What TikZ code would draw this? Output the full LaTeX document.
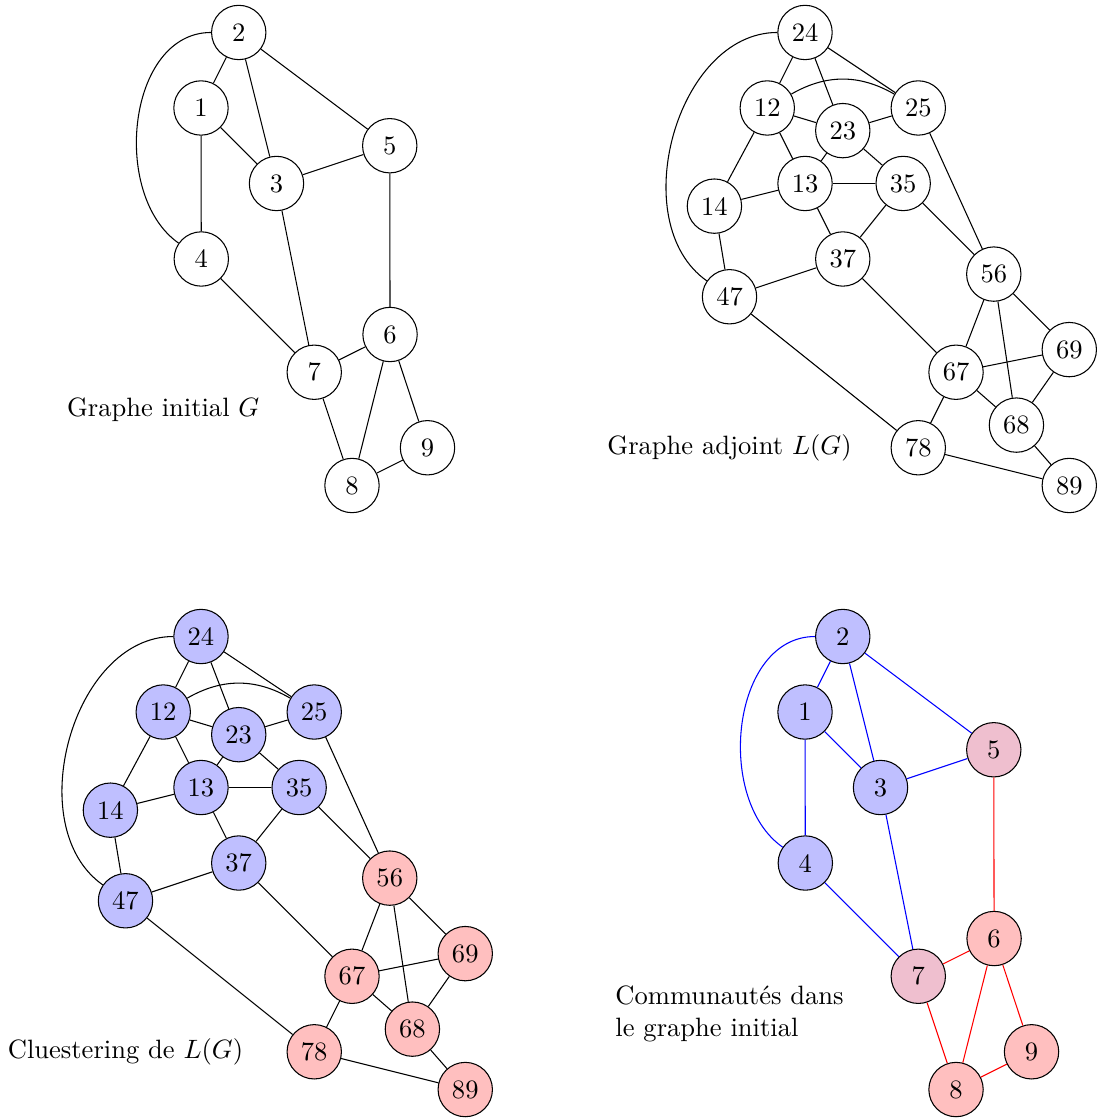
\documentclass[tikz,border=0pt]{standalone}
\usepackage{amsmath, amssymb}
\usepackage{xcolor}
\usepackage{tikz}

\begin{document}
\begin{tikzpicture}[
    vertex/.style={draw, circle, minimum size=7.2mm, inner sep=0pt},
    bleu/.style={vertex, fill=blue!25},
    rouge/.style={vertex, fill=red!25},
    mixte/.style={vertex, fill=purple!25}]
    \useasboundingbox (-2.662,1.430) rectangle (11.854,-13.377);

    % graphe initial
    \node[vertex] (g1) at (0,0) {1};
    \node[vertex] (g2) at (0.5,1) {2};
    \node[vertex] (g3) at (1,-1) {3};
    \node[vertex] (g4) at (0.004,-2) {4};
    \node[vertex] (g5) at (2.5,-0.5) {5};
    \node[vertex] (g6) at (2.504,-3) {6};
    \node[vertex] (g7) at (1.5,-3.5) {7};
    \node[vertex] (g8) at (2,-5) {8};
    \node[vertex] (g9) at (3,-4.5) {9};
    \node (tg) at (-0.5,-4) {Graphe initial $G$};

    \foreach \a/\b in {2/1, 2/3, 2/5, 1/3, 1/4, 3/5, 3/7, 5/6, 4/7, 7/6, 7/8, 6/8, 6/9, 8/9}
        \draw (g\a) -- (g\b);
    \draw (g2) to[out=180, in=145] (g4);

    % graphe adjoint
    \begin{scope}[shift={(7.5,0)}]
        \node[vertex] (l24) at (0.5,1) {24};
        \node[vertex] (l12) at (0,0) {12};
        \node[vertex] (l23) at (1,-0.3) {23};
        \node[vertex] (l25) at (2,0) {25};
        \node[vertex] (l13) at (0.5,-1) {13};
        \node[vertex] (l35) at (1.8,-1) {35};
        \node[vertex] (l14) at (-0.7,-1.3) {14};
        \node[vertex] (l37) at (1,-2) {37};
        \node[vertex] (l56) at (3,-2.2) {56};
        \node[vertex] (l47) at (-0.5,-2.5) {47};
        \node[vertex] (l69) at (4,-3.2) {69};
        \node[vertex] (l67) at (2.5,-3.5) {67};
        \node[vertex] (l68) at (3.3,-4.2) {68};
        \node[vertex] (l78) at (2,-4.5) {78};
        \node[vertex] (l89) at (4,-5) {89};
        \node (tl) at (-0.5,-4.5) {Graphe adjoint $L(G)$};
    \end{scope}

    \foreach \a/\b in {24/12, 24/23, 24/25, 12/23, 12/13, 12/14, 23/25, 23/13, 23/35,
                       13/35, 13/14, 13/37, 35/37, 35/56, 25/56, 14/47, 37/47, 37/67,
                       47/78, 56/67, 56/68, 56/69, 67/69, 67/68, 67/78, 68/69, 68/89, 78/89}
        \draw (l\a) -- (l\b);
    \draw (l24) to[out=180, in=145] (l47);
    \draw (l12) to[bend left=30] (l25);

    % clustering
    \begin{scope}[shift={(-0.5,-8)}]
        \node[bleu] (c24) at (0.5,1) {24};
        \node[bleu] (c12) at (0,0) {12};
        \node[bleu] (c23) at (1,-0.3) {23};
        \node[bleu] (c25) at (2,0) {25};
        \node[bleu] (c13) at (0.5,-1) {13};
        \node[bleu] (c35) at (1.8,-1) {35};
        \node[bleu] (c14) at (-0.7,-1.3) {14};
        \node[bleu] (c37) at (1,-2) {37};
        \node[rouge] (c56) at (3,-2.2) {56};
        \node[bleu] (c47) at (-0.5,-2.5) {47};
        \node[rouge] (c69) at (4,-3.2) {69};
        \node[rouge] (c67) at (2.5,-3.5) {67};
        \node[rouge] (c68) at (3.3,-4.2) {68};
        \node[rouge] (c78) at (2,-4.5) {78};
        \node[rouge] (c89) at (4,-5) {89};
        \node (tc) at (-0.5,-4.5) {Cluestering de $L(G)$};
    \end{scope}

    \foreach \a/\b in {24/12, 24/23, 24/25, 12/23, 12/13, 12/14, 23/25, 23/13, 23/35,
                       13/35, 13/14, 13/37, 35/37, 35/56, 25/56, 14/47, 37/47, 37/67,
                       47/78, 56/67, 56/68, 56/69, 67/69, 67/68, 67/78, 68/69, 68/89, 78/89}
        \draw (c\a) -- (c\b);
    \draw (c24) to[out=180, in=145] (c47);
    \draw (c12) to[bend left=30] (c25);

    % communautes
    \begin{scope}[shift={(8,-8)}]
        \node[bleu] (r1) at (0,0) {1};
        \node[bleu] (r2) at (0.5,1) {2};
        \node[bleu] (r3) at (1,-1) {3};
        \node[bleu] (r4) at (0.004,-2) {4};
        \node[mixte] (r5) at (2.5,-0.5) {5};
        \node[rouge] (r6) at (2.504,-3) {6};
        \node[mixte] (r7) at (1.5,-3.5) {7};
        \node[rouge] (r8) at (2,-5) {8};
        \node[rouge] (r9) at (3,-4.5) {9};
        \node[align=left] (tr) at (-1,-4) {Communautés dans\\le graphe initial};
    \end{scope}

    \foreach \a/\b in {2/1, 2/3, 2/5, 1/3, 1/4, 3/5, 3/7, 4/7}
        \draw[blue] (r\a) -- (r\b);
    \draw[blue] (r2) to[out=180, in=145] (r4);
    \foreach \a/\b in {5/6, 7/6, 7/8, 6/8, 6/9, 8/9}
        \draw[red] (r\a) -- (r\b);
\end{tikzpicture}
\end{document}
